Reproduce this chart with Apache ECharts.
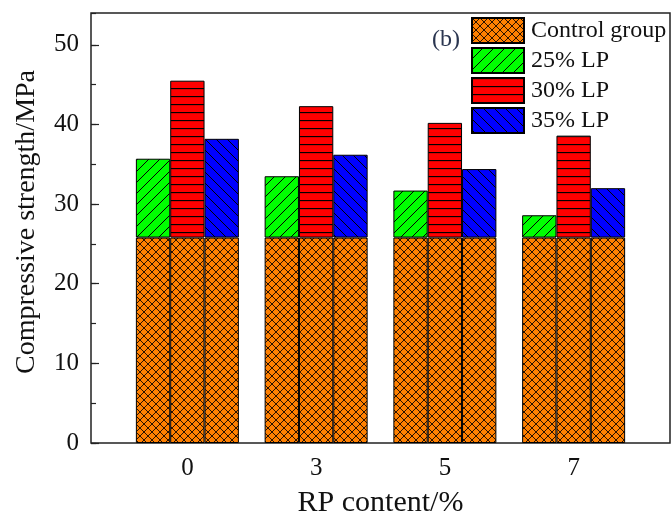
<!DOCTYPE html>
<html>
<head>
<meta charset="utf-8">
<script src="https://cdn.jsdelivr.net/npm/echarts@6/dist/echarts.min.js"></script>
<style>html,body{margin:0;padding:0;background:#fff;}#c{width:671px;height:511px;}</style>
</head>
<body>
<div id="c"></div>
<script>
const categories = ['0', '3', '5', '7'];
const controlGroup = [25.8, 25.8, 25.8, 25.8];
const lp25 = [35.7, 33.5, 31.7, 28.6];
const lp30 = [45.5, 42.3, 40.2, 38.6];
const lp35 = [38.2, 36.2, 34.4, 32.0];
const yTicks = [0, 10, 20, 30, 40, 50];

function makeTile(size, bg, draw) {
  const c = document.createElement('canvas');
  c.width = size; c.height = size;
  const g = c.getContext('2d');
  g.fillStyle = bg; g.fillRect(0, 0, size, size);
  g.strokeStyle = '#000'; g.lineWidth = 1;
  draw(g, size);
  return { image: c, repeat: 'repeat' };
}
function seg(g, x1, y1, x2, y2) { g.beginPath(); g.moveTo(x1, y1); g.lineTo(x2, y2); g.stroke(); }
function slash(g, s) { seg(g, -1, s + 1, s + 1, -1); seg(g, -2, 2, 2, -2); seg(g, s - 2, s + 2, s + 2, s - 2); }
function backslash(g, s) { seg(g, -1, -1, s + 1, s + 1); seg(g, -2, s - 2, 2, s + 2); seg(g, s - 2, -2, s + 2, 2); }

const patCross = makeTile(8, '#ff8000', (g, s) => { g.strokeStyle = '#2a1200'; slash(g, s); backslash(g, s); });
const pat25 = makeTile(11, '#00ff00', slash);
const pat30 = makeTile(8, '#ff0000', (g, s) => { g.lineWidth = 1.3; seg(g, 0, 0.5, s, 0.5); });
const pat35 = makeTile(11, '#0000ff', backslash);

const serifFont = '"Liberation Serif", "Times New Roman", serif';
const txt = '#111';
const itemBase = { borderColor: '#000', borderWidth: 1 };

function lpSeries(name, stack, totals, pat) {
  return [
    { name: 'Control group', type: 'bar', xAxisIndex: 1, yAxisIndex: 2, stack: stack,
      data: controlGroup, itemStyle: Object.assign({ color: patCross }, itemBase),
      barGap: '0%', barCategoryGap: '20%' },
    { name: name, type: 'bar', xAxisIndex: 1, yAxisIndex: 2, stack: stack,
      data: totals.map((v, i) => +(v - controlGroup[i]).toFixed(2)),
      itemStyle: Object.assign({ color: pat }, itemBase),
      barGap: '0%', barCategoryGap: '20%' }
  ];
}

const chart = echarts.init(document.getElementById('c'), null, { renderer: 'canvas' });
chart.setOption({
  animation: false,
  backgroundColor: '#fff',
  grid: [
    { left: 91, right: 1, top: 13, bottom: 68, show: true, borderColor: '#222', borderWidth: 1.5, backgroundColor: 'transparent', outerBoundsMode: 'none', containLabel: false },
    { left: 123, right: 33, top: 13, bottom: 68, outerBoundsMode: 'none', containLabel: false }
  ],
  xAxis: [
    { type: 'value', gridIndex: 0, min: 0, max: 1, axisLine: { show: false }, axisTick: { show: false }, axisLabel: { show: false }, splitLine: { show: false } },
    { type: 'category', gridIndex: 1, data: categories,
      axisLine: { show: false }, axisTick: { show: false },
      axisLabel: { fontFamily: serifFont, fontSize: 25, color: txt, margin: 13 },
      name: 'RP content/%', nameLocation: 'middle', nameGap: 45, nameMoveOverlap: false,
      nameTextStyle: { fontFamily: serifFont, fontSize: 30, color: txt } }
  ],
  yAxis: [
    { type: 'value', gridIndex: 0, min: 0, max: 54, interval: 10,
      axisLine: { show: false },
      axisTick: { show: true, inside: true, length: 8, lineStyle: { color: '#222', width: 1.2 } },
      axisLabel: { fontFamily: serifFont, fontSize: 25, color: txt, margin: 12, showMaxLabel: false,
        formatter: v => (yTicks.indexOf(v) >= 0 ? String(v) : '') },
      splitLine: { show: false },
      name: 'Compressive strength/MPa', nameLocation: 'middle', nameGap: 50, nameMoveOverlap: false,
      nameTextStyle: { fontFamily: serifFont, fontSize: 28, color: txt, padding: [0, 0, 0, 12] } },
    { type: 'value', gridIndex: 0, min: 0, max: 54, interval: 5, position: 'left',
      axisLine: { show: false },
      axisTick: { show: true, inside: true, length: 5, lineStyle: { color: '#222', width: 1.2 } },
      axisLabel: { show: false }, splitLine: { show: false } },
    { type: 'value', gridIndex: 1, min: 0, max: 54, show: false }
  ],
  legend: {
    data: ['Control group', '25% LP', '30% LP', '35% LP'],
    orient: 'vertical', left: 466, top: 12, itemWidth: 52, itemHeight: 25, itemGap: 3,
    icon: 'rect', selectedMode: false,
    textStyle: { fontFamily: serifFont, fontSize: 24, color: txt, padding: [0, 0, 0, 2] }
  },
  graphic: [
    { type: 'text', left: 432, top: 28, style: { text: '(b)', font: '24px ' + serifFont, fill: '#2a3550' } }
  ],
  series: [].concat(
    lpSeries('25% LP', 'a', lp25, pat25),
    lpSeries('30% LP', 'b', lp30, pat30),
    lpSeries('35% LP', 'c', lp35, pat35)
  )
});
</script>
</body>
</html>
